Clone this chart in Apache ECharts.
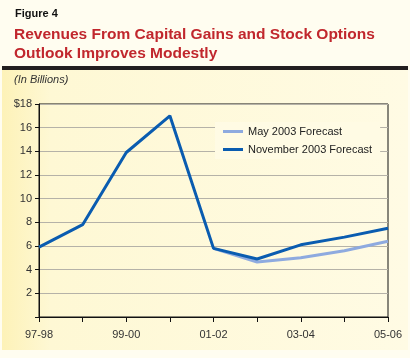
<!DOCTYPE html>
<html><head><meta charset="utf-8">
<script src="https://cdn.jsdelivr.net/npm/echarts@6/dist/echarts.min.js"></script>
<style>html,body{margin:0;padding:0;background:#fffdf0;}#c{width:410px;height:358px;}</style>
</head><body><div id="c"></div>
<script>
const categories = ['97-98','98-99','99-00','00-01','01-02','02-03','03-04','04-05','05-06'];
const mayForecast = [null,null,null,null,5.8,4.65,5.0,5.6,6.4];
const novForecast = [5.9,7.8,13.9,17.0,5.8,4.9,6.1,6.75,7.5];
const yTicks = [0,2,4,6,8,10,12,14,16,18];

const chart = echarts.init(document.getElementById('c'));
const font = 'Liberation Sans, Arial, sans-serif';
chart.setOption({
  animation:false,
  backgroundColor:'#fffdf0',
  graphic:[
    {type:'rect',shape:{x:2,y:70,width:406,height:280},z:-10,silent:true,
     style:{fill:{type:'linear',x:0,y:0,x2:1,y2:0,colorStops:[{offset:0,color:'#fdf2b8'},{offset:0.12,color:'#fef8d4'},{offset:1,color:'#fffbe4'}]}}},
    {type:'rect',shape:{x:2,y:66,width:406,height:4},style:{fill:'#231f20'},silent:true},
    {type:'text',left:15,top:8,style:{text:'Figure 4',font:'bold 11px '+font,fill:'#111'}},
    {type:'text',left:14,top:25,style:{text:'Revenues From Capital Gains and Stock Options\nOutlook Improves Modestly',font:'bold 15.5px '+font,fill:'#c1272d',lineHeight:19}},
    {type:'text',left:14,top:74,style:{text:'(In Billions)',font:'italic 11px '+font,fill:'#333'}}
  ],
  grid:{left:39,right:22,top:104,bottom:41,show:true,borderColor:'#111',borderWidth:1,backgroundColor:'transparent'},
  legend:{
    orient:'vertical',left:215,top:122,itemGap:7,
    backgroundColor:'#fffbe4',padding:[4,8,4,8],
    icon:'rect',itemWidth:20,itemHeight:3,
    textStyle:{fontFamily:font,fontSize:11,color:'#222'},
    data:['May 2003 Forecast','November 2003 Forecast']
  },
  xAxis:{
    type:'category',data:categories,boundaryGap:false,
    axisLine:{lineStyle:{color:'#111'}},
    axisTick:{show:true,interval:0,length:5,lineStyle:{color:'#111'}},
    axisLabel:{interval:1,margin:12,fontFamily:font,fontSize:11,color:'#333'},
    splitLine:{show:false}
  },
  yAxis:{
    type:'value',min:yTicks[0],max:yTicks[yTicks.length-1],interval:2,
    axisLine:{show:true,lineStyle:{color:'#111'}},
    axisTick:{show:true,length:4,lineStyle:{color:'#111'}},
    axisLabel:{fontFamily:font,fontSize:11,color:'#333',margin:7,
      formatter:v=>v===0?'':(v===18?'$'+v:String(v))},
    splitLine:{show:true,lineStyle:{color:'#b5b2a8',width:1}}
  },
  series:[
    {name:'May 2003 Forecast',type:'line',data:mayForecast,symbol:'none',
     lineStyle:{color:'#8eaadf',width:3},itemStyle:{color:'#8eaadf'},z:2},
    {name:'November 2003 Forecast',type:'line',data:novForecast,symbol:'none',
     lineStyle:{color:'#0a5cb0',width:3},itemStyle:{color:'#0a5cb0'},z:3}
  ]
});
</script></body></html>
